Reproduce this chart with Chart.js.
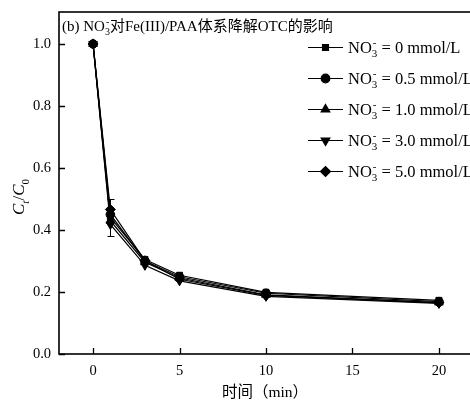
<!DOCTYPE html>
<html>
<head>
<meta charset="utf-8">
<script src="https://cdn.jsdelivr.net/npm/chart.js@4/dist/chart.umd.min.js"></script>
<style>
  html, body { margin: 0; padding: 0; background: #fff; }
  #wrap { width: 470px; height: 400px; position: relative; }
</style>
</head>
<body>
<div id="wrap"><canvas id="c" width="470" height="400"></canvas></div>
<script>
// Reaction time (min)
const times = [0, 1, 3, 5, 10, 20];
// Nitrate dose of each run (mmol/L)
const doses = ['0', '0.5', '1.0', '3.0', '5.0'];
// Residual OTC fraction Ct/C0 for each dose
const ratio0 = [1.0, 0.440, 0.305, 0.254, 0.199, 0.173];
const ratio05 = [1.0, 0.450, 0.300, 0.249, 0.196, 0.169];
const ratio10 = [1.0, 0.430, 0.296, 0.245, 0.191, 0.166];
const ratio30 = [1.0, 0.418, 0.286, 0.236, 0.186, 0.163];
const ratio50 = [1.0, 0.466, 0.301, 0.241, 0.189, 0.165];
// Standard deviations (only the 1 min point of the blank run is visibly non-zero)
const err0 = [0, 0.06, 0, 0, 0, 0];
// Axis ticks
const xTicks = [0, 5, 10, 15, 20];
const yTicks = [0.0, 0.2, 0.4, 0.6, 0.8, 1.0];

const serif = '"Liberation Serif", "Times New Roman", serif';
const cjk = '"Noto Sans CJK SC", sans-serif';

const seriesValues = [ratio0, ratio05, ratio10, ratio30, ratio50];
const markers = [
  { style: 'rect', rot: 0, r: 4.2 },
  { style: 'circle', rot: 0, r: 4.3 },
  { style: 'triangle', rot: 0, r: 5 },
  { style: 'triangle', rot: 180, r: 5 },
  { style: 'rectRot', rot: 0, r: 5 }
];
const errs = [err0, null, null, null, null];

const datasets = seriesValues.map((vals, i) => ({
  label: 'NO3- = ' + doses[i] + ' mmol/L',
  data: times.map((t, k) => ({ x: t, y: vals[k] })),
  borderColor: '#000',
  backgroundColor: '#000',
  borderWidth: 1.2,
  pointStyle: markers[i].style,
  pointRotation: markers[i].rot,
  pointRadius: markers[i].r,
  pointBorderWidth: 1,
  pointBorderColor: '#000',
  pointBackgroundColor: '#000',
  tension: 0,
  errors: errs[i]
}));

// draws text runs with sub/superscripts; a sup right after a sub shares its x
function richText(ctx, runs, x, y, size, family, italicMain) {
  let cx = x;
  let lastSubStart = null;
  runs.forEach(run => {
    const kind = run.k || 'n';
    const fam = run.f || family;
    const it = run.i !== undefined ? run.i : italicMain;
    if (kind === 'n') {
      ctx.font = (it ? 'italic ' : '') + size + 'px ' + fam;
      ctx.fillText(run.t, cx, y);
      cx += ctx.measureText(run.t).width;
      lastSubStart = null;
    } else if (kind === 'sub') {
      const s = Math.round(size * 0.65);
      ctx.font = (it ? 'italic ' : '') + s + 'px ' + fam;
      ctx.fillText(run.t, cx, y + size * 0.28);
      lastSubStart = cx;
      cx += ctx.measureText(run.t).width;
    } else if (kind === 'sup') {
      const s = Math.round(size * 0.65);
      ctx.font = s + 'px ' + fam;
      const sx = lastSubStart !== null ? lastSubStart + 1 : cx;
      ctx.fillText(run.t, sx, y - size * 0.38);
      const w = ctx.measureText(run.t).width;
      cx = Math.max(cx, sx + w);
      lastSubStart = null;
    }
  });
  return cx;
}

function richWidth(ctx, runs, size, family) {
  let w = 0;
  ctx.save();
  runs.forEach(run => {
    const s = run.k ? Math.round(size * 0.65) : size;
    ctx.font = (run.i ? 'italic ' : '') + s + 'px ' + (run.f || family);
    if (run.k !== 'sup') w += ctx.measureText(run.t).width;
  });
  ctx.restore();
  return w;
}

const decorPlugin = {
  id: 'decor',
  afterDatasetsDraw(chart) {
    const ctx = chart.ctx;
    const xs = chart.scales.x, ys = chart.scales.y;
    ctx.save();
    // error bars
    chart.data.datasets.forEach(ds => {
      if (!ds.errors) return;
      ctx.strokeStyle = '#000';
      ctx.lineWidth = 1;
      ds.data.forEach((p, k) => {
        const e = ds.errors[k];
        if (!e) return;
        const px = Math.round(xs.getPixelForValue(p.x)) + 0.5;
        const top = Math.round(ys.getPixelForValue(p.y + e)) + 0.5;
        const bot = Math.round(ys.getPixelForValue(p.y - e)) + 0.5;
        ctx.beginPath();
        ctx.moveTo(px, top); ctx.lineTo(px, bot);
        ctx.moveTo(px - 3, top); ctx.lineTo(px + 4, top);
        ctx.moveTo(px - 3, bot); ctx.lineTo(px + 4, bot);
        ctx.stroke();
      });
    });
    ctx.restore();
  },
  afterDraw(chart) {
    const ctx = chart.ctx;
    const a = chart.chartArea;
    const xs = chart.scales.x, ys = chart.scales.y;
    ctx.save();
    // frame (right side runs past the canvas edge)
    ctx.strokeStyle = '#000';
    ctx.lineWidth = 1.6;
    ctx.strokeRect(a.left, a.top, chart.width + 4 - a.left, a.bottom - a.top);
    // inward ticks
    ctx.lineWidth = 1.3;
    ctx.beginPath();
    xTicks.forEach(v => {
      const px = Math.round(xs.getPixelForValue(v)) + 0.5;
      ctx.moveTo(px, a.bottom); ctx.lineTo(px, a.bottom - 6);
    });
    yTicks.forEach(v => {
      const py = Math.round(ys.getPixelForValue(v)) + 0.5;
      ctx.moveTo(a.left, py); ctx.lineTo(a.left + 6, py);
    });
    ctx.stroke();

    ctx.fillStyle = '#000';
    ctx.textBaseline = 'alphabetic';
    ctx.textAlign = 'left';
    // panel title
    richText(ctx, [
      { t: '(b) NO' }, { t: '3', k: 'sub' }, { t: '-', k: 'sup' },
      { t: '对', f: cjk }, { t: 'Fe(III)/PAA' }, { t: '体系降解', f: cjk },
      { t: 'OTC' }, { t: '的影响', f: cjk }
    ], a.left + 3, 31, 15, serif, false);

    // legend
    chart.data.datasets.forEach((ds, i) => {
      const ly = 47.5 + i * 31;
      ctx.strokeStyle = '#000';
      ctx.lineWidth = 1.2;
      ctx.beginPath();
      ctx.moveTo(308, ly); ctx.lineTo(343, ly);
      ctx.stroke();
      ctx.fillStyle = '#000';
      Chart.helpers.drawPoint(ctx, {
        pointStyle: markers[i].style, rotation: markers[i].rot,
        radius: markers[i].r, borderWidth: 1
      }, 325.5, ly);
      richText(ctx, [
        { t: 'NO' }, { t: '3', k: 'sub' }, { t: '-', k: 'sup' },
        { t: ' = ' + doses[i] + ' mmol/L' }
      ], 348, ly + 5, 16.5, serif, false);
    });

    // x axis title
    const xt = [{ t: '时间（', f: cjk }, { t: 'min' }, { t: '）', f: cjk }];
    const xw = richWidth(ctx, xt, 15.5, serif);
    richText(ctx, xt, 265 - xw / 2, 397, 15.5, serif, false);

    // y axis title (rotated)
    ctx.save();
    ctx.translate(24, 197);
    ctx.rotate(-Math.PI / 2);
    const parts = [{ t: 'C', i: true }, { t: 't', k: 'sub', i: true }, { t: '/' }, { t: 'C', i: true }, { t: '0', k: 'sub' }];
    const w = richWidth(ctx, parts, 17, serif);
    richText(ctx, parts, -w / 2, 0, 17, serif, false);
    ctx.restore();

    ctx.restore();
  }
};

new Chart(document.getElementById('c'), {
  type: 'line',
  data: { datasets },
  options: {
    responsive: false,
    animation: false,
    devicePixelRatio: 1,
    layout: { padding: { top: 12, right: 0, left: 0, bottom: 0 } },
    plugins: { legend: { display: false }, tooltip: { enabled: false } },
    scales: {
      x: {
        type: 'linear',
        min: -1.97,
        max: 21.45,
        afterBuildTicks: s => { s.ticks = xTicks.map(v => ({ value: v })); },
        afterFit: s => { s.height = 46; s.paddingLeft = 0; s.paddingRight = 0; },
        grid: { display: false, drawTicks: false },
        border: { display: false },
        ticks: {
          padding: 8,
          color: '#000',
          font: { family: serif, size: 14.5 },
          callback: v => String(v),
          maxRotation: 0
        }
      },
      y: {
        type: 'linear',
        min: 0,
        max: 1.103,
        afterBuildTicks: s => { s.ticks = yTicks.map(v => ({ value: v })); },
        afterFit: s => { s.width = 59; s.paddingTop = 0; s.paddingBottom = 0; },
        grid: { display: false, drawTicks: false },
        border: { display: false },
        ticks: {
          padding: 8,
          color: '#000',
          font: { family: serif, size: 14.5 },
          callback: v => v.toFixed(1)
        }
      }
    }
  },
  plugins: [decorPlugin]
});
</script>
</body>
</html>
